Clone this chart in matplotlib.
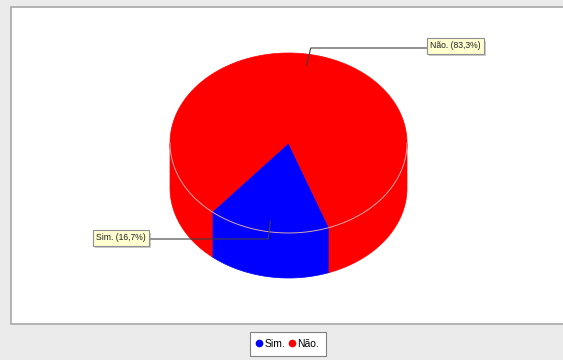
import numpy as np
import matplotlib.pyplot as plt
import matplotlib.patheffects as pe
from matplotlib.patches import Polygon, Rectangle
from matplotlib.lines import Line2D

labels = ['Sim.', 'Não.']
values = [16.7, 83.3]
colors = ['#0000ff', '#ff0000']

W, H = 563, 360
# pie geometry in pixels
cx, cy, a, b, depth = 288.5, 143, 118.5, 90, 45
start_angle = 290  # math degrees, slices go clockwise
label_pos = {'Sim.': (148, 238, 'right'), 'Não.': (428, 46, 'left')}
label_font = ['Liberation Sans', 'DejaVu Sans']


def ellipse_pts(theta, dy=0.0):
    r = np.radians(theta)
    return np.column_stack([cx + a * np.cos(r), cy - b * np.sin(r) + dy])


fig = plt.figure(figsize=(W / 100, H / 100), dpi=100, facecolor='#ebebeb')
ax = fig.add_axes([0, 0, 1, 1])
ax.set_xlim(0, W)
ax.set_ylim(H, 0)
ax.axis('off')

ax.add_patch(Rectangle((11, 7), 560, 317, facecolor='white',
                       edgecolor='#a8a8a8', lw=1.2, zorder=0))

total = sum(values)
t = start_angle
slices = []
for lab, v, c in zip(labels, values, colors):
    span = 360 * v / total
    slices.append((lab, v, c, t - span, t))
    t -= span

# side walls (front half only)
for lab, v, c, t2, t1 in slices:
    theta = np.linspace(t2, t1, 600)
    front = np.sin(np.radians(theta)) <= 0
    idx = np.flatnonzero(front)
    if len(idx) == 0:
        continue
    runs = np.split(idx, np.flatnonzero(np.diff(idx) > 1) + 1)
    for run in runs:
        th = theta[run]
        top = ellipse_pts(th)
        bot = ellipse_pts(th[::-1], depth)
        ax.add_patch(Polygon(np.vstack([top, bot]), closed=True,
                             facecolor=c, edgecolor=c, lw=0.5, zorder=2))

# top faces
for lab, v, c, t2, t1 in slices:
    theta = np.linspace(t2, t1, 600)
    pts = np.vstack([[cx, cy], ellipse_pts(theta)])
    ax.add_patch(Polygon(pts, closed=True, facecolor=c,
                         edgecolor=c, lw=0.5, zorder=3))

# light rim along the front edge of the top
rim = ellipse_pts(np.linspace(180, 360, 300))
ax.plot(rim[:, 0], rim[:, 1], color='#d8a8a8', lw=0.7, zorder=4)

# labels with leader lines
for lab, v, c, t2, t1 in slices:
    mid = (t1 + t2) / 2
    r = np.radians(mid)
    px, py = cx + 0.88 * a * np.cos(r), cy - 0.88 * b * np.sin(r)
    lx, ly, ha = label_pos[lab]
    ex = px + (4 if ha == 'left' else -2)
    ly_line = ly + (2 if ha == 'left' else 1)
    ax.plot([px, ex, lx], [py, ly_line, ly_line], color='#404040', lw=0.8, zorder=5)
    pct = f"{v:.1f}".replace('.', ',')
    tx = ax.text(lx + (2 if ha == 'left' else -2), ly, f"{lab} ({pct}%)",
                 ha=ha, va='center', fontsize=6.2, family=label_font,
                 color='#202020', zorder=6,
                 bbox=dict(boxstyle='square,pad=0.35', facecolor='#ffffd0',
                           edgecolor='#909090', lw=0.8))
    tx.get_bbox_patch().set_path_effects(
        [pe.SimplePatchShadow(offset=(1.5, -1.5), shadow_rgbFace='#999999', alpha=0.5),
         pe.Normal()])

handles = [Line2D([], [], ls='none', marker='o', markersize=4.5,
                  markerfacecolor=c, markeredgecolor=c) for c in colors]
leg = fig.legend(handles, labels, loc='center',
                 bbox_to_anchor=(288 / W, 1 - 344 / H), ncol=2,
                 handlelength=0.4, handletextpad=0.3, columnspacing=0.4,
                 borderpad=0.7, borderaxespad=0, fancybox=False, framealpha=1,
                 edgecolor='#808080', prop={'family': label_font, 'size': 7.5})
leg.get_frame().set_linewidth(0.8)

fig.savefig('out.png', dpi=100, facecolor=fig.get_facecolor())
